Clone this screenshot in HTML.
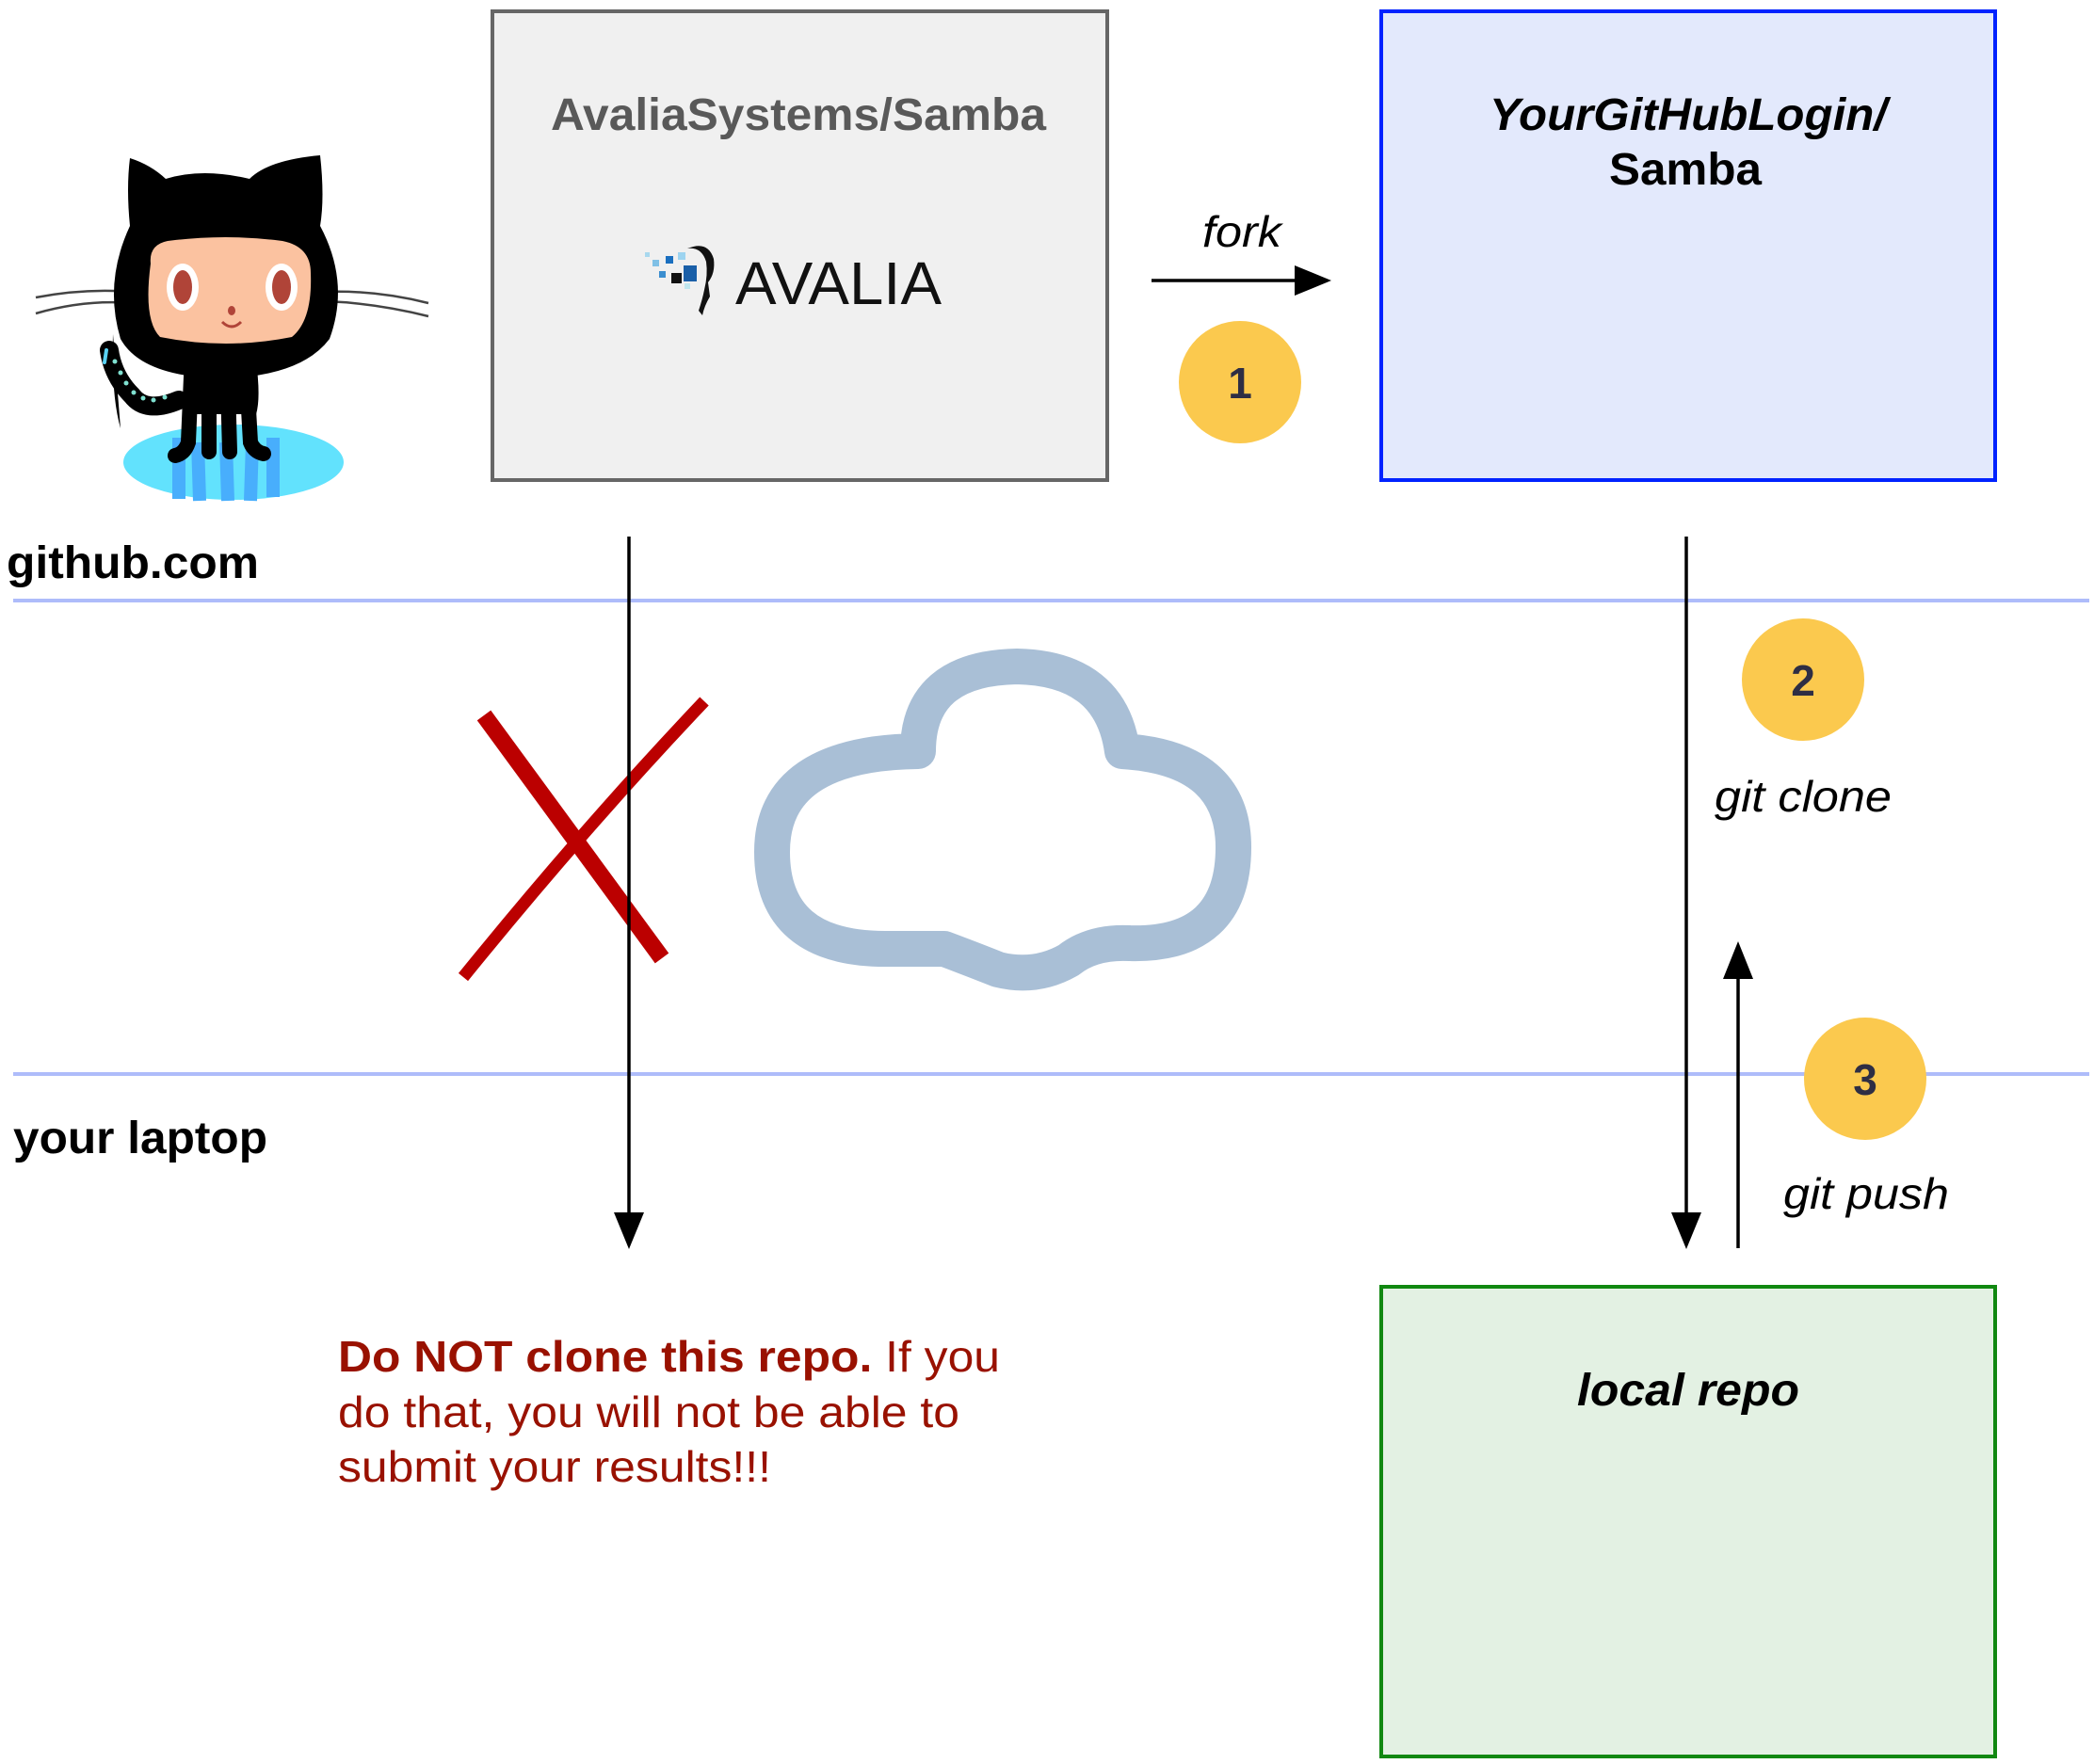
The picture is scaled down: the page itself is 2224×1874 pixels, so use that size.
<!DOCTYPE html>
<html><head><meta charset="utf-8"><style>
html,body{margin:0;padding:0;background:#fff;}
svg{display:block;}
text{font-family:"Liberation Sans",sans-serif;}
</style></head><body>
<svg width="2224" height="1874" viewBox="0 0 2224 1874" xmlns="http://www.w3.org/2000/svg">
<defs>
<marker id="ah" markerWidth="10" markerHeight="10" refX="9" refY="5" orient="auto" markerUnits="userSpaceOnUse" viewBox="0 0 10 10">
</marker>
</defs>
<!-- separators -->
<line x1="14" y1="638" x2="2219" y2="638" stroke="#aebcfa" stroke-width="4"/>
<line x1="14" y1="1141" x2="2219" y2="1141" stroke="#aebcfa" stroke-width="4"/>
<text x="7" y="614" font-size="48" font-weight="bold" textLength="268" lengthAdjust="spacingAndGlyphs">github.com</text>
<text x="14" y="1225" font-size="48" font-weight="bold" textLength="270" lengthAdjust="spacingAndGlyphs">your laptop</text>

<!-- boxes -->
<rect x="523" y="12" width="653" height="498" fill="#f0f0f0" stroke="#666" stroke-width="4"/>
<text x="848" y="138" font-size="48" font-weight="bold" fill="#595959" text-anchor="middle" textLength="526" lengthAdjust="spacingAndGlyphs">AvaliaSystems/Samba</text>
<rect x="1467" y="12" width="652" height="498" fill="#e3e9fc" stroke="#0022ff" stroke-width="4"/>
<text x="1793" y="138" font-size="48" font-weight="bold" font-style="italic" text-anchor="middle" textLength="422" lengthAdjust="spacingAndGlyphs">YourGitHubLogin/</text>
<text x="1790" y="196" font-size="48" font-weight="bold" text-anchor="middle" textLength="162" lengthAdjust="spacingAndGlyphs">Samba</text>
<rect x="1467" y="1367" width="652" height="499" fill="#e3f1e3" stroke="#118811" stroke-width="4"/>
<text x="1793" y="1493" font-size="48" font-weight="bold" font-style="italic" text-anchor="middle" textLength="236" lengthAdjust="spacingAndGlyphs">local repo</text>

<!-- Avalia logo -->
<g>
<rect x="685" y="268" width="5" height="5" fill="#a8d8ee"/>
<rect x="693" y="276" width="7" height="7" fill="#7fc0e6"/>
<rect x="707" y="272" width="8" height="8" fill="#1a6fbf"/>
<rect x="720" y="268" width="8" height="8" fill="#9dd4f0"/>
<rect x="700" y="288" width="7" height="7" fill="#3b8ecf"/>
<rect x="713" y="290" width="11" height="11" fill="#111"/>
<rect x="726" y="282" width="14" height="17" fill="#1a5fa8"/>
<rect x="727" y="301" width="6" height="6" fill="#bfe6ee"/>
<path d="M730 264 Q752 255 758 275 Q760 290 752 300 L754 315 Q748 325 746 335 L742 330 Q746 318 748 308 Q752 292 750 278 Q745 262 730 264Z" fill="#111"/>
<text x="781" y="323" font-size="64" fill="#111" textLength="219" lengthAdjust="spacingAndGlyphs" style="font-weight:normal">AVALIA</text>
</g>

<!-- Octocat -->
<g>
<ellipse cx="248" cy="491" rx="117" ry="40" fill="#62e2fd"/>
<path d="M190 465 L190 530 M210 470 L212 532 M240 470 L242 532 M268 470 L266 532 M290 465 L290 528" stroke="#48aefc" stroke-width="14" fill="none"/>
<path d="M120 355 Q118 420 128 455" stroke="none"/>
<!-- whiskers -->
<path d="M38 316 Q90 306 140 310 M38 333 Q90 318 140 322 M345 310 Q400 308 455 322 M345 320 Q400 322 455 336" stroke="#444" stroke-width="2.5" fill="none"/>
<!-- tail -->
<path d="M116 372 Q120 400 140 420 Q155 440 190 425" stroke="#000" stroke-width="20" fill="none" stroke-linecap="round"/>
<g fill="#7fe0d0"><circle cx="122" cy="384" r="2.5"/><circle cx="128" cy="396" r="2.5"/><circle cx="134" cy="407" r="2.5"/><circle cx="142" cy="417" r="2.5"/><circle cx="152" cy="423" r="2.5"/><circle cx="163" cy="425" r="2.5"/><circle cx="175" cy="422" r="2.5"/></g>
<path d="M113 372 L111 385" stroke="#5ad2f4" stroke-width="4" stroke-linecap="round"/>
<!-- legs -->
<path d="M203 400 L200 470 Q196 482 186 484 M222 410 L222 480 M242 410 L244 480 M262 400 L266 470 Q270 480 280 482" stroke="#000" stroke-width="16" fill="none" stroke-linecap="round"/>
<path d="M200 370 Q196 420 200 440 L272 440 Q278 420 270 370Z" fill="#000"/>
<!-- head -->
<path d="M138 168 Q160 175 176 190 Q215 178 265 190 Q285 170 340 165 Q345 210 340 240 Q372 300 350 360 Q320 400 235 402 Q150 400 128 360 Q110 300 138 240 Q134 200 138 168Z" fill="#000"/>
<path d="M160 280 Q158 260 178 256 Q240 248 300 256 Q330 262 330 290 Q332 340 310 358 Q240 372 170 358 Q152 340 160 280Z" fill="#fbc2a0"/>
<ellipse cx="194" cy="305" rx="17" ry="25" fill="#fff"/><ellipse cx="194" cy="305" rx="10" ry="18" fill="#b04438"/>
<ellipse cx="299" cy="305" rx="17" ry="25" fill="#fff"/><ellipse cx="299" cy="305" rx="10" ry="18" fill="#b04438"/>
<ellipse cx="246" cy="330" rx="4" ry="5" fill="#b04438"/>
<path d="M236 342 Q246 352 256 342" stroke="#b04438" stroke-width="3" fill="none"/>
</g>

<!-- cloud -->
<path d="M1003 1008 L940 1008 Q820 1008 820 905 Q820 800 975 798 Q975 710 1080 708 Q1180 710 1192 798 Q1310 805 1310 900 Q1310 1005 1200 1002 Q1160 1000 1135 1020 Q1100 1040 1060 1030 Q1035 1020 1003 1008Z" fill="none" stroke="#a9bfd6" stroke-width="38" stroke-linejoin="round"/>

<!-- red X -->
<line x1="514" y1="760" x2="703" y2="1018" stroke="#bb0000" stroke-width="18"/>
<path d="M748 745 Q620 880 492 1038" stroke="#bb0000" stroke-width="13" fill="none"/>

<!-- arrows -->
<line x1="668" y1="570" x2="668" y2="1290" stroke="#000" stroke-width="3.5"/>
<polygon points="652,1288 684,1288 668,1327" fill="#000"/>
<line x1="1791" y1="570" x2="1791" y2="1290" stroke="#000" stroke-width="3.5"/>
<polygon points="1775,1288 1807,1288 1791,1327" fill="#000"/>
<line x1="1846" y1="1326" x2="1846" y2="1038" stroke="#000" stroke-width="3.5"/>
<polygon points="1830,1040 1862,1040 1846,1000" fill="#000"/>
<line x1="1223" y1="298" x2="1378" y2="298" stroke="#000" stroke-width="3.5"/>
<polygon points="1375,282 1375,314 1414,298" fill="#000"/>
<text x="1319" y="262" font-size="46" font-style="italic" text-anchor="middle" textLength="84" lengthAdjust="spacingAndGlyphs">fork</text>

<!-- numbered circles -->
<ellipse cx="1317" cy="406" rx="65" ry="65" fill="#fbc94e"/>
<text x="1317" y="423" font-size="46" font-weight="bold" fill="#2e2e44" text-anchor="middle">1</text>
<ellipse cx="1915" cy="722" rx="65" ry="65" fill="#fbc94e"/>
<text x="1915" y="739" font-size="46" font-weight="bold" fill="#2e2e44" text-anchor="middle">2</text>
<ellipse cx="1981" cy="1146" rx="65" ry="65" fill="#fbc94e"/>
<text x="1981" y="1163" font-size="46" font-weight="bold" fill="#2e2e44" text-anchor="middle">3</text>
<text x="1915" y="862" font-size="46" font-style="italic" text-anchor="middle" textLength="188" lengthAdjust="spacingAndGlyphs">git clone</text>
<text x="1982" y="1284" font-size="46" font-style="italic" text-anchor="middle" textLength="176" lengthAdjust="spacingAndGlyphs">git push</text>

<!-- warning text -->
<text x="359" y="1457" font-size="46" fill="#991100" textLength="703" lengthAdjust="spacingAndGlyphs"><tspan font-weight="bold">Do NOT clone this repo.</tspan> If you</text>
<text x="359" y="1516" font-size="46" fill="#991100" textLength="660" lengthAdjust="spacingAndGlyphs">do that, you will not be able to</text>
<text x="359" y="1574" font-size="46" fill="#991100" textLength="460" lengthAdjust="spacingAndGlyphs">submit your results!!!</text>
</svg>
</body></html>
